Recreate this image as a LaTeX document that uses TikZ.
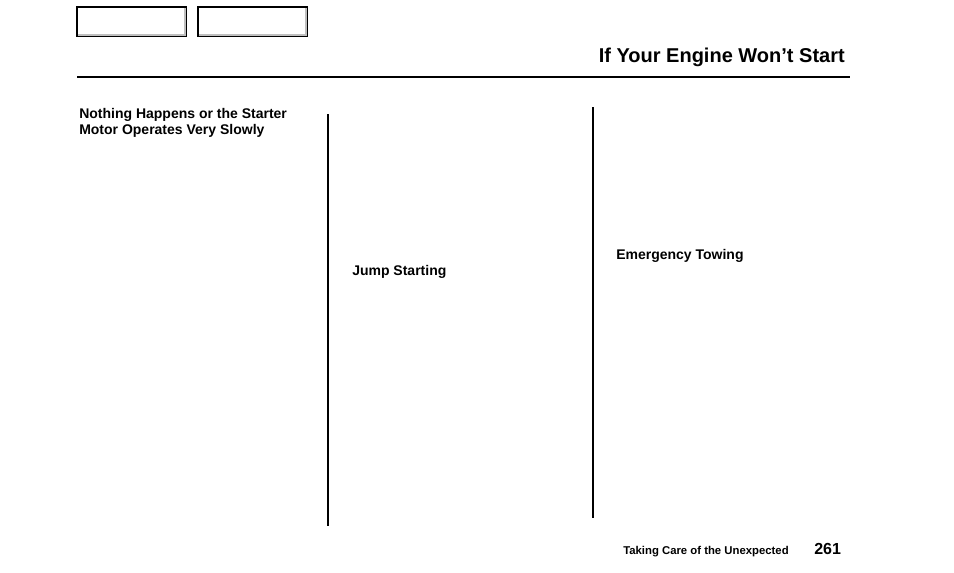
\documentclass[tikz,border=0pt]{standalone}
\usepackage{fontspec}
\setmainfont{Liberation Sans}
\begin{document}
\begin{tikzpicture}[x=0.75pt,y=-0.75pt,
  tabbox/.style={draw,line width=1.5pt,minimum width=82pt,minimum height=22pt,inner sep=0pt},
  head/.style={font=\bfseries\fontsize{10.5}{12}\selectfont,align=left,inner sep=0pt},
  rule/.style={line width=1.2pt}]
\useasboundingbox (0,0) rectangle (954,572);
% tabs
\node[tabbox,anchor=north west] (tabA) at (76,6) {};
\node[tabbox,anchor=north west] (tabB) at (197,6) {};
\draw[gray!50,line width=1.5pt] ([shift={(2,-2)}]tabA.south west) -| ([shift={(-2,2)}]tabA.north east);
\draw[gray!50,line width=1.5pt] ([shift={(2,-2)}]tabB.south west) -| ([shift={(-2,2)}]tabB.north east);
% title
\node[font=\bfseries\fontsize{15}{18}\selectfont,anchor=south east,inner sep=0pt] (title) at (845,67) {If Your Engine Won't Start};
\coordinate (ruleL) at (77,77);
\coordinate (ruleR) at (850,77);
\draw[line width=2pt] (ruleL) -- (ruleR);
% columns
\node[head,anchor=north west] (nothing) at (79,108) {Nothing Happens or the Starter\\Motor Operates Very Slowly};
\node[head,anchor=west] (jump) at (352,272) {Jump Starting};
\node[head,anchor=west] (tow) at (616,256) {Emergency Towing};
\coordinate (sepA1) at (328,114);
\coordinate (sepA2) at (328,526);
\coordinate (sepB1) at (593,107);
\coordinate (sepB2) at (593,518);
\draw[rule] (sepA1) -- (sepA2);
\draw[rule] (sepB1) -- (sepB2);
% footer
\node[font=\bfseries\fontsize{8.5}{10}\selectfont,anchor=base west,inner sep=0pt] (section) at (623,554) {Taking Care of the Unexpected};
\node[font=\bfseries\fontsize{12}{14}\selectfont,anchor=base west,inner sep=0pt] (page) at (814,554) {261};
\end{tikzpicture}
\end{document}
